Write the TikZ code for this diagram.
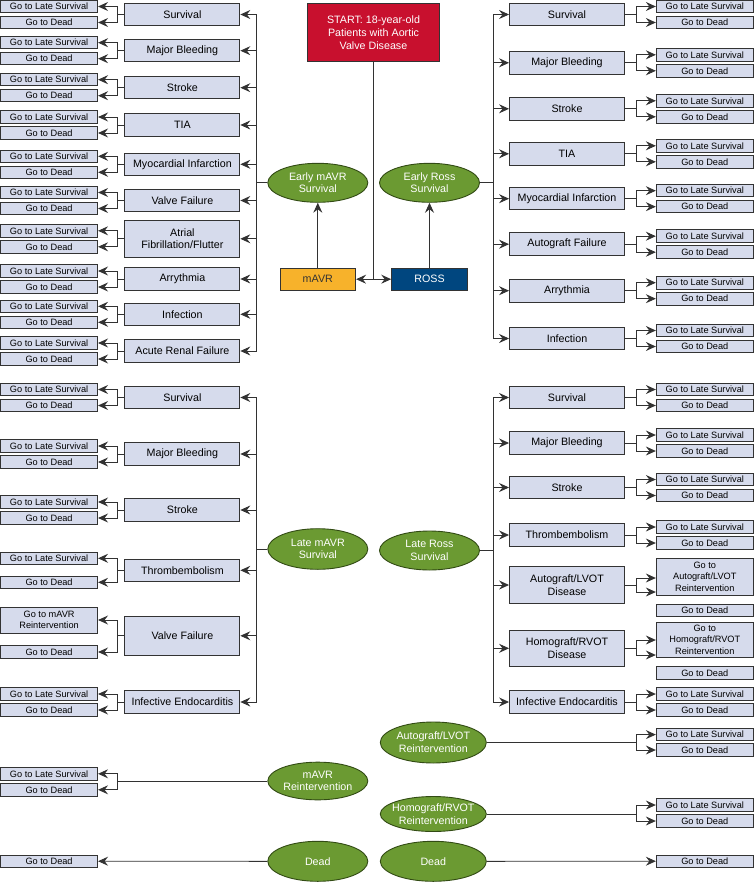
\documentclass[tikz,border=0pt]{standalone}
\usepackage{fontspec}
\setmainfont{Liberation Sans}
\usetikzlibrary{arrows.meta,shapes.geometric}

\definecolor{boxc}{RGB}{214,219,236}
\definecolor{edgec}{RGB}{51,51,51}
\definecolor{linec}{RGB}{50,50,50}
\definecolor{greenc}{RGB}{107,154,50}
\definecolor{greenline}{RGB}{50,75,20}
\definecolor{startc}{RGB}{200,16,46}
\definecolor{mavrc}{RGB}{247,178,43}
\definecolor{rossc}{RGB}{0,70,127}

\tikzset{
	event/.style={draw=edgec, fill=boxc, line width=0.9pt, minimum width=115pt, minimum height=22.5pt,
		inner sep=1pt, align=center, font=\fontsize{10.7}{12.7}\selectfont},
	outcome/.style={draw=edgec, fill=boxc, line width=0.9pt, minimum width=97pt, minimum height=12.5pt,
		inner sep=0pt, align=center, font=\fontsize{9.2}{11.5}\selectfont},
	chance/.style={ellipse, draw=greenline, fill=greenc, text=white, line width=0.9pt, minimum width=100pt,
		minimum height=39pt, inner sep=0pt, align=center, font=\fontsize{10.7}{12.7}\selectfont},
	armbox/.style={draw=edgec, line width=0.9pt, minimum width=75.7pt, minimum height=21.7pt, inner sep=0pt,
		font=\fontsize{10.7}{12.7}\selectfont},
	link/.style={draw=linec, line width=0.9pt},
}

\begin{document}
\begin{tikzpicture}[x=1pt, y=-1pt, >={Stealth[length=10pt,width=9pt,inset=3.5pt]}]
	\useasboundingbox (0,0) rectangle (754,882);

	% start and the two arms
	\node[draw=edgec, fill=startc, text=white, line width=0.9pt, minimum width=132.4pt, minimum height=57.7pt,
		inner sep=0pt, align=center, font=\fontsize{10.7}{13}\selectfont] (start) at (373.5,32.2)
		{START: 18-year-old\\Patients with Aortic\\Valve Disease};
	\node[armbox, fill=mavrc, text=edgec] (mavr) at (317.8,279.2) {mAVR};
	\node[armbox, fill=rossc, text=white] (ross) at (429.5,279.2) {ROSS};
	\node[chance] (emavr) at (317.8,182.8) {Early mAVR\\Survival};
	\node[chance] (eross) at (429.5,182.8) {Early Ross\\Survival};
	\draw[link,->] (start.south) |- (mavr.east);
	\draw[link,->] (start.south) |- (ross.west);
	\draw[link,->] (mavr.north) -- (emavr.south);
	\draw[link,->] (ross.north) -- (eross.south);

	% early mAVR
	\foreach \n/\yy/\hh/\txt in {1/14.5/22.5/Survival, 2/50.7/22.5/Major Bleeding, 3/87.7/22.5/Stroke,
		4/125/22.5/TIA, 5/164.3/22.5/Myocardial Infarction, 6/200.5/22.5/Valve Failure,
		7/238.8/37/{Atrial\\Fibrillation/Flutter}, 8/279/22.5/Arrythmia, 9/314.3/22.5/Infection,
		10/351/22.5/Acute Renal Failure}{
		\node[event, minimum height=\hh pt] (em\n) at (182.4,\yy) {\txt};
		\node[outcome] (em\n-a) at (49.1,\yy-8) {Go to Late Survival};
		\node[outcome] (em\n-b) at (49.1,\yy+8) {Go to Dead};
		\draw[link,->] (emavr.west) -- ++(-11.1,0) |- (em\n.east);
		\draw[link,->] (em\n.west) -- ++(-7.4,0) |- (em\n-a.east);
		\draw[link,->] (em\n.west) -- ++(-7.4,0) |- (em\n-b.east);
	}

	% early Ross
	\foreach \n/\yy/\txt in {1/14.5/Survival, 2/62.8/Major Bleeding, 3/108.8/Stroke, 4/153.8/TIA,
		5/198.7/Myocardial Infarction, 6/244.2/Autograft Failure, 7/290.7/Arrythmia, 8/338.5/Infection}{
		\node[event] (er\n) at (567,\yy) {\txt};
		\node[outcome] (er\n-a) at (704.8,\yy-8) {Go to Late Survival};
		\node[outcome] (er\n-b) at (704.8,\yy+8) {Go to Dead};
		\draw[link,->] (eross.east) -- ++(13.5,0) |- (er\n.west);
		\draw[link,->] (er\n.east) -- ++(11,0) |- (er\n-a.west);
		\draw[link,->] (er\n.east) -- ++(11,0) |- (er\n-b.west);
	}

	% late mAVR
	\node[chance, minimum height=40.6pt] (lmavr) at (317.8,549) {Late mAVR\\Survival};
	\foreach \n/\yy/\dd/\txt in {1/397.5/8/Survival, 2/454/8/Major Bleeding, 3/510/8/Stroke,
		4/570.3/12/Thrombembolism, 6/702/8/Infective Endocarditis}{
		\node[event] (lm\n) at (182.4,\yy) {\txt};
		\node[outcome] (lm\n-a) at (49.1,\yy-\dd) {Go to Late Survival};
		\node[outcome] (lm\n-b) at (49.1,\yy+\dd) {Go to Dead};
		\draw[link,->] (lm\n.west) -- ++(-7.4,0) |- (lm\n-a.east);
		\draw[link,->] (lm\n.west) -- ++(-7.4,0) |- (lm\n-b.east);
	}
	\node[event, minimum height=39.7pt] (lm5) at (182.4,635.8) {Valve Failure};
	\node[outcome, minimum height=26pt] (lm5-a) at (49.1,620) {Go to mAVR\\Reintervention};
	\node[outcome] (lm5-b) at (49.1,652) {Go to Dead};
	\draw[link,->] (lm5.west) -- ++(-7.4,0) |- (lm5-a.east);
	\draw[link,->] (lm5.west) -- ++(-7.4,0) |- (lm5-b.east);
	\foreach \n in {1,...,6}
		\draw[link,->] (lmavr.west) -- ++(-11.1,0) |- (lm\n.east);

	% late Ross
	\node[chance] (lross) at (429.5,550.5) {Late Ross\\Survival};
	\foreach \n/\yy/\txt in {1/397.5/Survival, 2/443/Major Bleeding, 3/487.5/Stroke, 4/535/Thrombembolism,
		7/702/Infective Endocarditis}{
		\node[event] (lr\n) at (567,\yy) {\txt};
		\node[outcome] (lr\n-a) at (704.8,\yy-8) {Go to Late Survival};
		\node[outcome] (lr\n-b) at (704.8,\yy+8) {Go to Dead};
		\draw[link,->] (lr\n.east) -- ++(11,0) |- (lr\n-a.west);
		\draw[link,->] (lr\n.east) -- ++(11,0) |- (lr\n-b.west);
	}
	\node[event, minimum height=36.6pt] (lr5) at (567,585) {Autograft/LVOT\\Disease};
	\node[outcome, minimum height=37pt] (lr5-a) at (704.8,576.5) {Go to\\Autograft/LVOT\\Reintervention};
	\node[outcome] (lr5-b) at (704.8,610.5) {Go to Dead};
	\draw[link,->] (lr5.east) -- ++(11,0) |- ([yshift=-1.5pt]lr5-a.west);
	\draw[link,->] (lr5.east) -- ++(11,0) |- ([yshift=-15.5pt]lr5-a.west);
	\node[event, minimum height=36.7pt] (lr6) at (567,648.3) {Homograft/RVOT\\Disease};
	\node[outcome, minimum height=35pt] (lr6-a) at (704.8,639.5) {Go to\\Homograft/RVOT\\Reintervention};
	\node[outcome] (lr6-b) at (704.8,673) {Go to Dead};
	\draw[link,->] (lr6.east) -- ++(11,0) |- ([yshift=-0.5pt]lr6-a.west);
	\draw[link,->] (lr6.east) -- ++(11,0) |- ([yshift=-15.5pt]lr6-a.west);
	\foreach \n in {1,...,7}
		\draw[link,->] (lross.east) -- ++(13.5,0) |- (lr\n.west);

	% reinterventions and death
	\node[chance, minimum width=106pt, minimum height=41pt, inner xsep=-3pt] (areint) at (433.3,742.5) {Autograft/LVOT\\Reintervention};
	\node[chance, minimum height=37.7pt] (mreint) at (317.8,781) {mAVR\\Reintervention};
	\node[chance, minimum width=106pt, minimum height=35pt, inner xsep=-6pt, inner ysep=-2pt] (hreint) at (433.3,814) {Homograft/RVOT\\Reintervention};
	\node[chance, minimum height=40pt] (deadl) at (317.8,861.3) {Dead};
	\node[chance, minimum width=106pt, minimum height=40pt] (deadr) at (433.3,861.3) {Dead};

	\node[outcome] (ar-a) at (704.8,734.6) {Go to Late Survival};
	\node[outcome] (ar-b) at (704.8,750) {Go to Dead};
	\node[outcome] (mr-a) at (49.1,773.8) {Go to Late Survival};
	\node[outcome] (mr-b) at (49.1,789.8) {Go to Dead};
	\node[outcome] (hr-a) at (704.8,805) {Go to Late Survival};
	\node[outcome] (hr-b) at (704.8,821) {Go to Dead};
	\node[outcome] (dl) at (49.1,861.2) {Go to Dead};
	\node[outcome] (dr) at (704.8,861.2) {Go to Dead};

	\draw[link,->] (areint.east) -- (636.7,742.5) |- (ar-a.west);
	\draw[link,->] (areint.east) -- (636.7,742.5) |- (ar-b.west);
	\draw[link,->] (mreint.west) -- (117.7,781) |- (mr-a.east);
	\draw[link,->] (mreint.west) -- (117.7,781) |- (mr-b.east);
	\draw[link,->] (hreint.east) -- (636.7,814) |- (hr-a.west);
	\draw[link,->] (hreint.east) -- (636.7,814) |- (hr-b.west);
	\draw[link,->] (deadl.west) -- (dl.east);
	\draw[link,->] (deadr.east) -- (dr.west);
\end{tikzpicture}
\end{document}
